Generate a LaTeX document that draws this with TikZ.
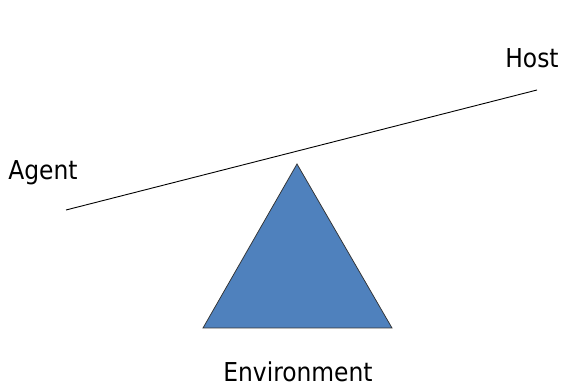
\documentclass[tikz,border=0pt]{standalone}
\usepackage{fontspec}
\setmainfont{DejaVu Sans Condensed}
\definecolor{fulcrumblue}{RGB}{79,129,189}
\tikzset{every picture/.style={line width=0.75pt}}
\tikzset{label text/.style={anchor=base,inner sep=0.75pt,text depth=0pt,font=\fontsize{26}{30}\selectfont}}

\begin{document}
\begin{tikzpicture}[x=1pt,y=1pt,yscale=-1,xscale=1]
\useasboundingbox (0,0) rectangle (563,387);

%Straight Lines [id:beam]
\coordinate (beamL) at (66,210);
\coordinate (beamR) at (537,90);
\draw [line width=0.9pt] (beamL) -- (beamR) ;

%Shape: Triangle [id:fulcrum]
\draw [draw=black!80,fill=fulcrumblue] (297,164) -- (392,328) -- (203,328) -- cycle ;

% Text Node
\node (agent) at (43,180) [label text] {Agent};
% Text Node
\node (host) at (532,68) [label text] {Host};
% Text Node
\node (environment) at (298,382) [label text] {Environment};

\end{tikzpicture}
\end{document}
